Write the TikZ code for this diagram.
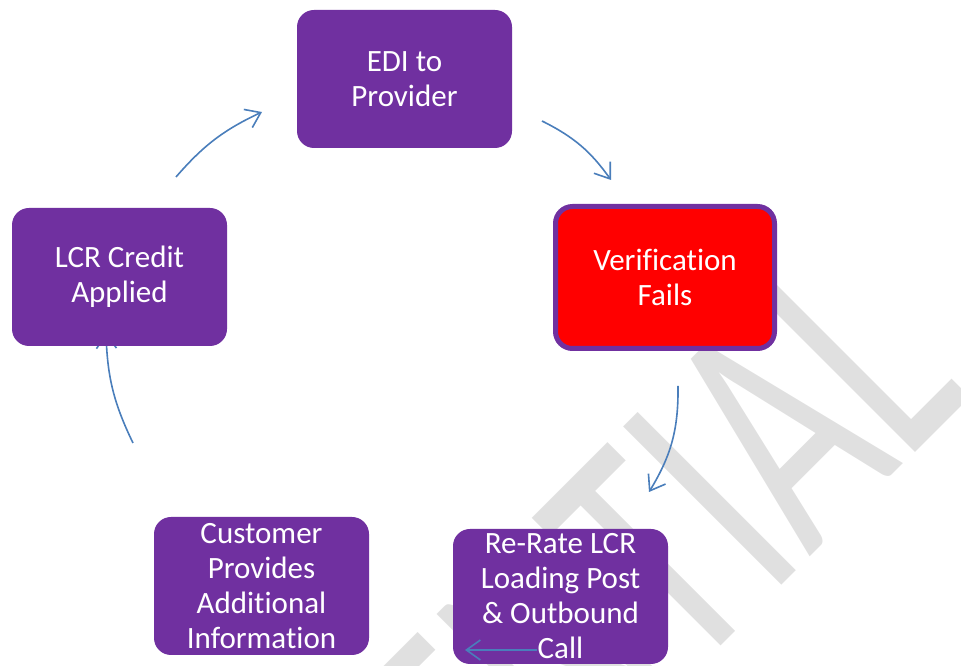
\documentclass[tikz,border=0pt]{standalone}
\usepackage{fontspec}
\setmainfont{Carlito}[Ligatures=NoCommon]
\usetikzlibrary{arrows.meta}

\definecolor{stagepurple}{HTML}{7030A0}
\definecolor{failred}{HTML}{FF0000}
\definecolor{flowblue}{HTML}{4A7EBB}
\definecolor{markgray}{HTML}{E0E0E0}

\tikzset{
  stage/.style={fill=stagepurple, text=white, rounded corners=17pt,
    minimum width=215pt, minimum height=138pt, inner sep=0pt,
    align=center, font=\fontsize{31}{35}\selectfont},
  failstage/.style={stage, fill=failred, draw=stagepurple, line width=5pt,
    minimum width=219pt, minimum height=142pt},
  flow/.style={draw=flowblue, line width=1.6pt,
    -{Straight Barb[length=14pt,width=20pt]}}
}

\begin{document}
\begin{tikzpicture}[x=1pt, y=1pt]
    % Parameters
    \def\wide{961}
    \def\high{666}
    \useasboundingbox (0,0) rectangle (\wide,\high);

    % Watermark
    \begin{scope}
      \clip (0,0) rectangle (\wide,\high);
      \node[rotate=45, inner sep=0pt, text=markgray,
        font=\fontsize{231}{231}\selectfont] (mark) at (401,-142)
        {\scalebox{1}[1.51]{CONFIDENTIAL}};
    \end{scope}

    % Arrow ends
    \coordinate (credit-out) at (176,489);
    \coordinate (edi-in) at (262,554);
    \coordinate (edi-out) at (542,545);
    \coordinate (verif-in) at (611,486);
    \coordinate (verif-out) at (678,280);
    \coordinate (rerate-in) at (649,174);
    \coordinate (cust-out) at (133,223);
    \coordinate (credit-in) at (106,333);
    \coordinate (rerate-out) at (537,16);
    \coordinate (cust-in) at (465,16);

    % Cycle arrows (under the boxes)
    \draw[flow] (credit-out) to[bend left=12] (edi-in);
    \draw[flow] (edi-out) to[bend left=14] (verif-in);
    \draw[flow] (verif-out) to[bend left=16] (rerate-in);
    \draw[flow] (cust-out) to[bend left=12] (credit-in);

    % Stages
    \node[stage] (edi) at (404.5,587) {EDI to\\Provider};
    \node[failstage] (verif) at (665,388.5) {Verification\\Fails};
    \node[stage, minimum height=135pt] (rerate) at (560.5,69.5)
      {Re-Rate LCR\\Loading Post\\\& Outbound\\Call};
    \node[stage] (cust) at (261.5,80)
      {Customer\\Provides\\Additional\\Information};
    \node[stage] (credit) at (119.5,389) {LCR Credit\\Applied};

    % Arrow drawn over the re-rate box
    \draw[flow] (rerate-out) -- (cust-in);
\end{tikzpicture}
\end{document}
